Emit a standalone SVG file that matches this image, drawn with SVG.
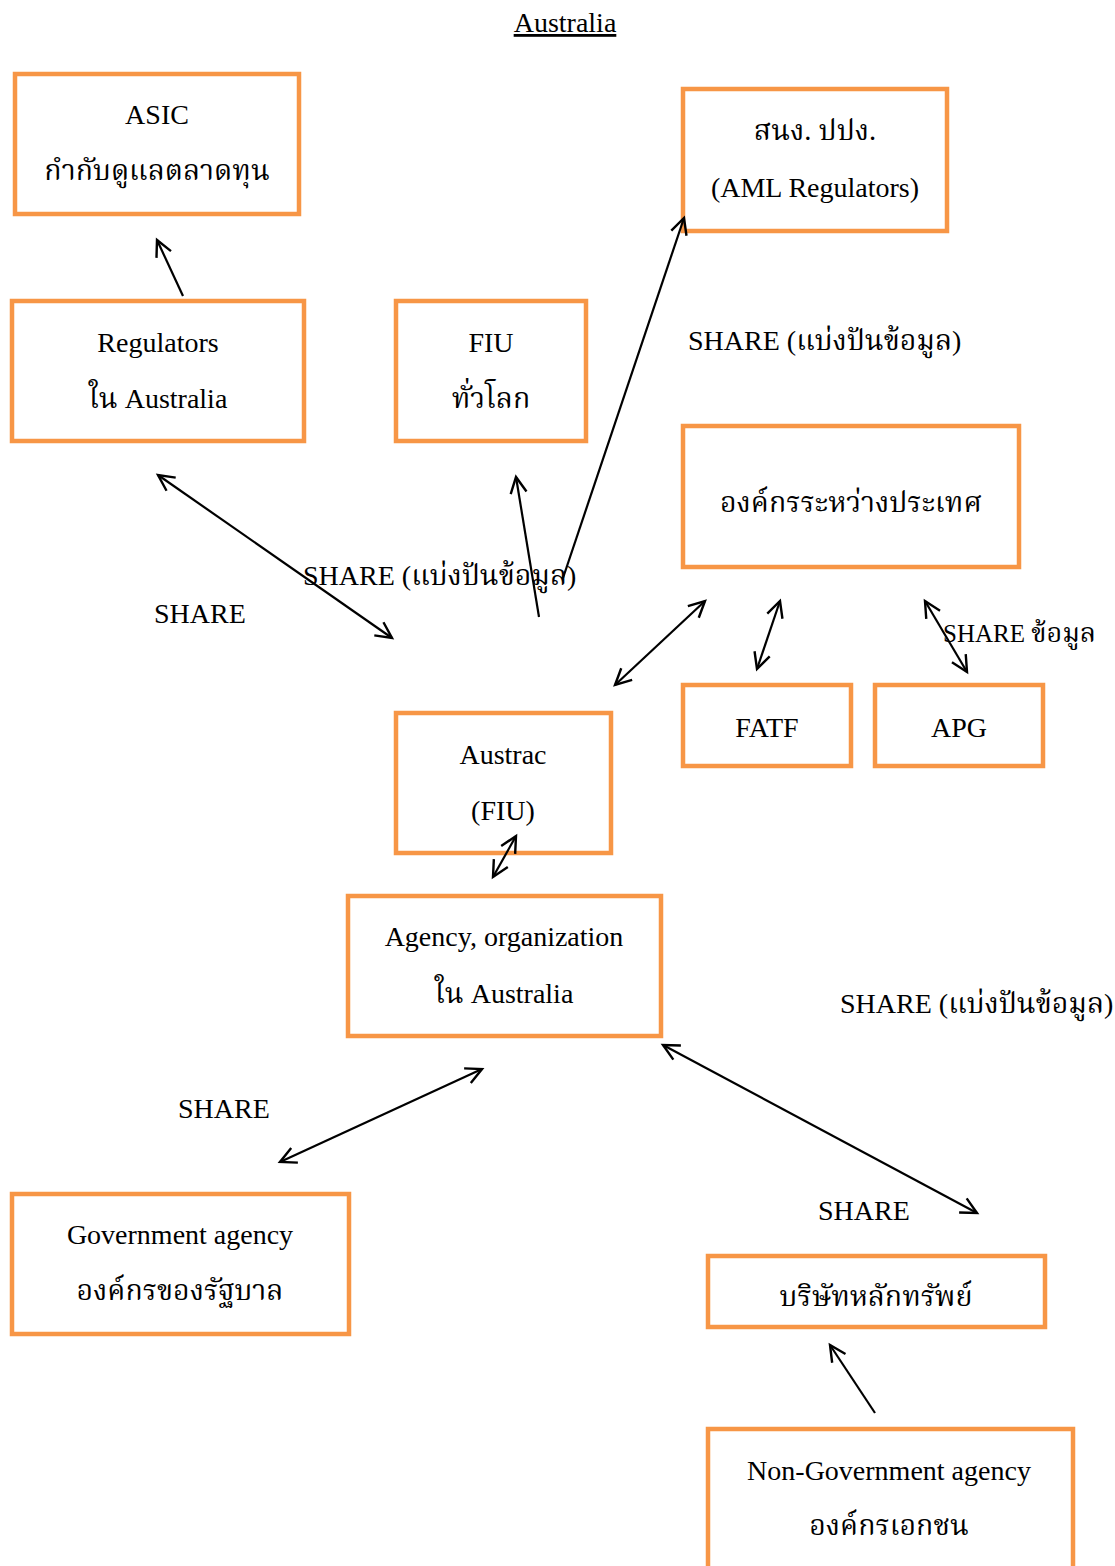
<svg xmlns="http://www.w3.org/2000/svg" width="1115" height="1566" viewBox="0 0 1115 1566">
<defs>
<style>
.box{fill:#ffffff;stroke:#F79646;stroke-width:4.5}
text{font-family:"Liberation Serif","Noto Serif Thai","Noto Sans Thai",serif;font-size:28px;fill:#000}
.th{font-size:28.5px}
.c{text-anchor:middle}
.conn line{stroke:#000;stroke-width:2.2;fill:none}
.one{marker-end:url(#ah)}
.two{marker-end:url(#ah);marker-start:url(#ah)}
</style>
<marker id="ah" markerUnits="userSpaceOnUse" markerWidth="22" markerHeight="22" refX="17" refY="9" orient="auto-start-reverse" viewBox="0 0 22 18">
<path d="M1,1 L17,9 L1,17" fill="none" stroke="#000" stroke-width="2.4"/>
</marker>
</defs>
<rect width="1115" height="1566" fill="#fff"/>
<text class="c" x="565" y="32" text-decoration="underline">Australia</text>

<g id="asic"><rect class="box" x="15" y="74" width="284" height="140"/>
<text class="c" x="157" y="124">ASIC</text><text class="c th" x="157" y="180">กำกับดูแลตลาดทุน</text></g>

<g id="regulators"><rect class="box" x="12" y="301" width="292" height="140"/>
<text class="c" x="158" y="352">Regulators</text><text class="c" x="158" y="408"><tspan class="th">ใน</tspan> Australia</text></g>

<g id="fiu"><rect class="box" x="396" y="301" width="190" height="140"/>
<text class="c" x="491" y="352">FIU</text><text class="c th" x="491" y="408">ทั่วโลก</text></g>

<g id="aml"><rect class="box" x="683" y="89" width="264" height="142"/>
<text class="c th" x="815" y="140">สนง. ปปง.</text><text class="c" x="815" y="197">(AML Regulators)</text></g>

<g id="intl"><rect class="box" x="683" y="426" width="336" height="141"/>
<text class="c th" x="851" y="512">องค์กรระหว่างประเทศ</text></g>

<g id="fatf"><rect class="box" x="683" y="685" width="168" height="81"/>
<text class="c" x="767" y="737">FATF</text></g>

<g id="apg"><rect class="box" x="875" y="685" width="168" height="81"/>
<text class="c" x="959" y="737">APG</text></g>

<g id="austrac"><rect class="box" x="396" y="713" width="215" height="140"/>
<text class="c" x="503" y="764">Austrac</text><text class="c" x="503" y="820">(FIU)</text></g>

<g id="agency"><rect class="box" x="348" y="896" width="313" height="140"/>
<text class="c" x="504" y="946">Agency, organization</text><text class="c" x="504" y="1003"><tspan class="th">ใน</tspan> Australia</text></g>

<g id="gov"><rect class="box" x="12" y="1194" width="337" height="140"/>
<text class="c" x="180" y="1244">Government agency</text><text class="c th" x="180" y="1300">องค์กรของรัฐบาล</text></g>

<g id="securities"><rect class="box" x="708" y="1256" width="337" height="71"/>
<text class="c th" x="876" y="1306">บริษัทหลักทรัพย์</text></g>

<g id="nongov"><rect class="box" x="708" y="1429" width="365" height="150"/>
<text class="c" x="889" y="1480">Non-Government agency</text><text class="c th" x="889" y="1535">องค์กรเอกชน</text></g>

<g id="connectors" class="conn">
<line class="one" x1="183" y1="296" x2="157" y2="240"/>
<line class="two" x1="158" y1="475" x2="392" y2="638"/>
<line class="one" x1="539" y1="617" x2="516" y2="477"/>
<line class="one" x1="563" y1="578" x2="684" y2="218"/>
<line class="two" x1="615" y1="685" x2="705" y2="601"/>
<line class="two" x1="757" y1="669" x2="780" y2="601"/>
<line class="two" x1="925" y1="601" x2="967" y2="672"/>
<line class="two" x1="493" y1="877" x2="516" y2="836"/>
<line class="two" x1="280" y1="1162" x2="482" y2="1069"/>
<line class="two" x1="663" y1="1045" x2="977" y2="1213"/>
<line class="one" x1="875" y1="1413" x2="830" y2="1345"/>
</g>

<g id="labels">
<text x="688" y="350">SHARE (<tspan class="th">แบ่งปันข้อมูล</tspan>)</text>
<text x="303" y="585">SHARE (<tspan class="th">แบ่งปันข้อมูล</tspan>)</text>
<text x="154" y="623">SHARE</text>
<text x="943" y="642" style="font-size:25px">SHARE <tspan style="font-size:27px">ข้อมูล</tspan></text>
<text x="840" y="1013">SHARE (<tspan class="th">แบ่งปันข้อมูล</tspan>)</text>
<text x="178" y="1118">SHARE</text>
<text x="818" y="1220">SHARE</text>
</g>
</svg>
